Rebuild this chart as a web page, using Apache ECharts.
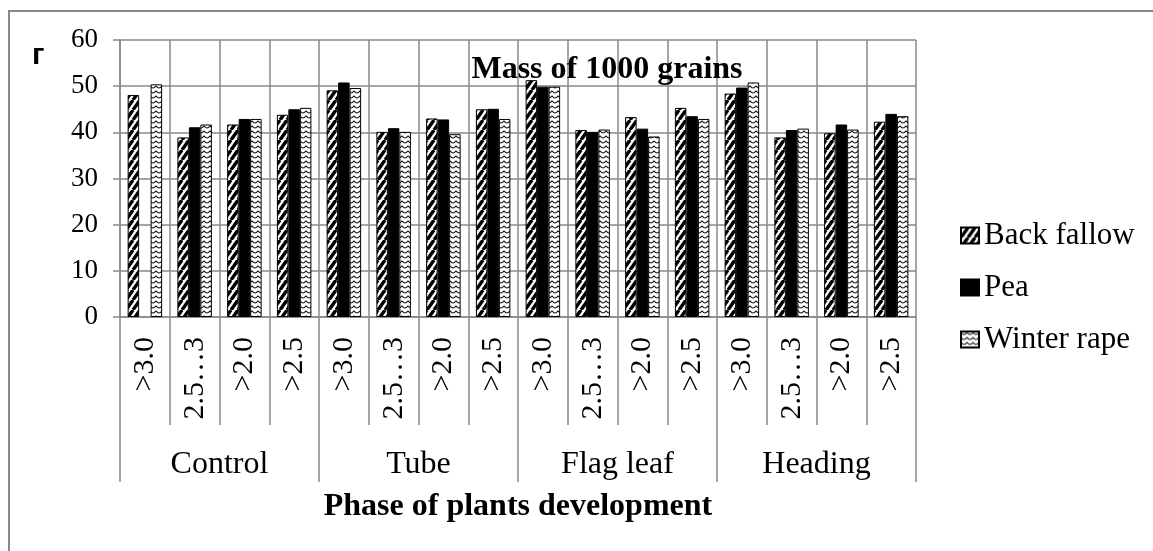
<!DOCTYPE html>
<html>
<head>
<meta charset="utf-8">
<script src="https://cdn.jsdelivr.net/npm/echarts@6/dist/echarts.min.js"></script>
<style>
html,body{margin:0;padding:0;background:#fff;}
#chart{width:1153px;height:551px;}
</style>
</head>
<body>
<div id="chart"></div>
<script>
// ---- data ----
const subCategories = ['>3.0', '2.5…3', '>2.0', '>2.5', '>3.0', '2.5…3', '>2.0', '>2.5', '>3.0', '2.5…3', '>2.0', '>2.5', '>3.0', '2.5…3', '>2.0', '>2.5'];
const phases = ['Control', 'Tube', 'Flag leaf', 'Heading'];
const seriesNames = ['Back fallow', 'Pea', 'Winter rape'];
const backFallow = [48.1, 38.9, 41.7, 43.8, 49.1, 40.1, 43.0, 45.0, 51.3, 40.5, 43.3, 45.3, 48.4, 38.9, 39.8, 42.3];
const pea = [null, 41.1, 42.9, 45.0, 50.8, 40.9, 42.8, 45.1, 49.9, 40.1, 40.8, 43.5, 49.7, 40.5, 41.7, 44.0];
const winterRape = [50.4, 41.7, 42.9, 45.3, 49.6, 40.1, 39.6, 42.9, 49.9, 40.6, 39.1, 42.9, 50.8, 40.8, 40.6, 43.5];
const yTicks = [0, 10, 20, 30, 40, 50, 60];

// ---- patterns ----
function makeStripe() {
  const c = document.createElement('canvas');
  const w = 7, h = 10;
  c.width = w; c.height = h;
  const g = c.getContext('2d');
  g.fillStyle = '#fff'; g.fillRect(0, 0, w, h);
  g.strokeStyle = '#000'; g.lineWidth = 3.4;
  for (let k = -1; k <= 1; k++) {
    g.beginPath(); g.moveTo(k * w, h); g.lineTo(k * w + w, 0); g.stroke();
  }
  return c;
}
function makeWave() {
  const c = document.createElement('canvas');
  const w = 6, h = 5;
  c.width = w; c.height = h;
  const g = c.getContext('2d');
  g.fillStyle = '#fff'; g.fillRect(0, 0, w, h);
  g.strokeStyle = '#111'; g.lineWidth = 1.2;
  g.beginPath(); g.moveTo(0, 0.8); g.quadraticCurveTo(w / 2, 5.2, w, 0.8); g.stroke();
  return c;
}
const stripeFill = { image: makeStripe(), repeat: 'repeat' };
const waveFill = { image: makeWave(), repeat: 'repeat' };

const gridColor = '#898989';
const serif = 'Liberation Serif';
const gridBox = { left: 120, right: 237, top: 40, bottom: 234 };

const chart = echarts.init(document.getElementById('chart'), null, { renderer: 'canvas' });

function barSeries(name, data, fill) {
  return {
    name: name, type: 'bar', xAxisIndex: 0, yAxisIndex: 0,
    data: data, barWidth: 11.5, barGap: '0%',
    itemStyle: { color: fill, borderColor: '#000', borderWidth: 1 },
    emphasis: { disabled: true }, animation: false
  };
}

chart.setOption({
  animation: false,
  backgroundColor: '#fff',
  title: {
    text: 'Mass of 1000 grains', left: 602, top: 49, textAlign: 'center',
    textStyle: { fontFamily: serif, fontWeight: 'bold', fontSize: 32, color: '#000' }
  },
  graphic: [
    { type: 'rect', shape: { x: 9, y: 11, width: 1300, height: 700 }, style: { fill: null, stroke: gridColor, lineWidth: 2 }, silent: true, z: -1 },
    { type: 'text', left: 32, top: 41, style: { text: 'г', font: 'bold 30px "Liberation Sans"', fill: '#000' } }
  ],
  legend: {
    orient: 'vertical', left: 955, top: 215, itemGap: 21, itemWidth: 18, itemHeight: 16,
    icon: 'rect', selectedMode: false,
    data: seriesNames,
    textStyle: { fontFamily: serif, fontSize: 31, color: '#000' }
  },
  grid: [
    Object.assign({ containLabel: false }, gridBox),
    Object.assign({ containLabel: false }, gridBox)
  ],
  xAxis: [
    {
      type: 'category', gridIndex: 0, data: subCategories, position: 'bottom',
      axisLine: { show: true, lineStyle: { color: gridColor, width: 1.5 } },
      axisTick: { show: true, interval: 0, length: 108, lineStyle: { color: gridColor, width: 1.5 } },
      splitLine: { show: true, interval: 0, lineStyle: { color: gridColor, width: 1.5 } },
      axisLabel: { interval: 0, rotate: 90, margin: 20, fontFamily: serif, fontSize: 30, color: '#000' }
    },
    {
      type: 'category', gridIndex: 1, data: phases, position: 'bottom',
      axisLine: { show: false },
      axisTick: { show: true, interval: 0, length: 165, lineStyle: { color: gridColor, width: 1.5 } },
      splitLine: { show: false },
      axisLabel: { interval: 0, margin: 132, fontFamily: serif, fontSize: 32, color: '#000' },
      name: 'Phase of plants development', nameLocation: 'middle', nameGap: 174,
      nameTextStyle: { fontFamily: serif, fontWeight: 'bold', fontSize: 32, color: '#000' }
    }
  ],
  yAxis: [
    {
      type: 'value', gridIndex: 0, min: yTicks[0], max: yTicks[yTicks.length - 1], interval: 10,
      axisLine: { show: true, lineStyle: { color: gridColor, width: 1.5 } },
      axisTick: { show: true, length: 7, lineStyle: { color: gridColor, width: 1.5 } },
      splitLine: { show: true, lineStyle: { color: gridColor, width: 1.5 } },
      axisLabel: { margin: 22, fontFamily: serif, fontSize: 27, color: '#000' }
    },
    { type: 'value', gridIndex: 1, min: 0, max: 60, show: false }
  ],
  series: [
    barSeries(seriesNames[0], backFallow, stripeFill),
    barSeries(seriesNames[1], pea, '#000'),
    barSeries(seriesNames[2], winterRape, waveFill)
  ]
});
</script>
</body>
</html>
